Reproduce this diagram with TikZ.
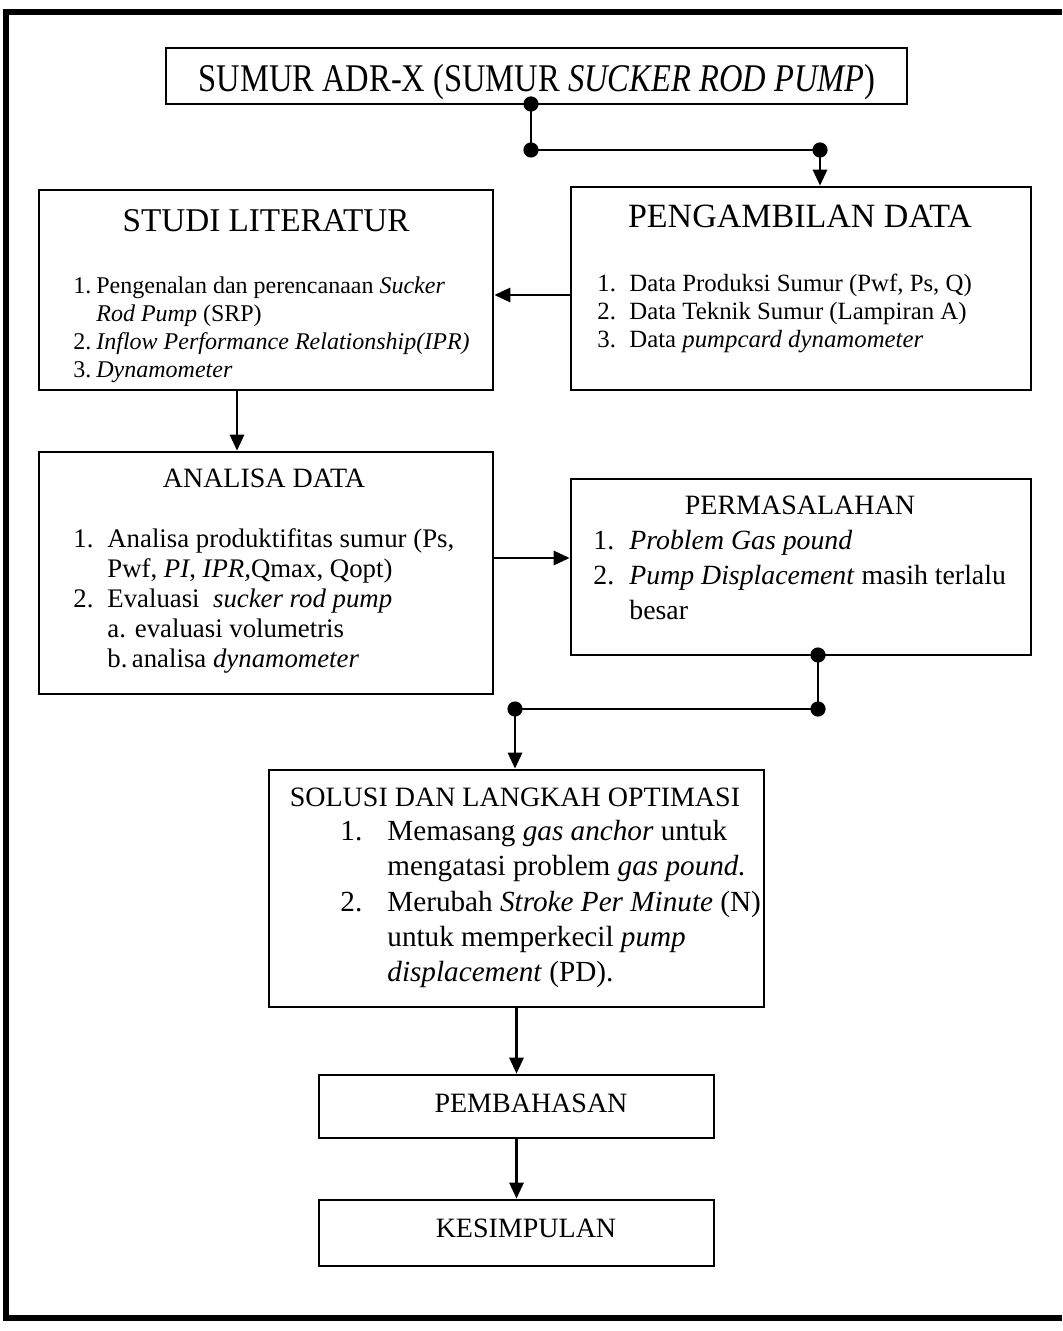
\documentclass[tikz,border=0pt]{standalone}
\usepackage{fontspec}
\setmainfont{Liberation Serif}
\newfontfamily\condfont[FakeStretch=0.83]{Liberation Serif}
\usetikzlibrary{arrows.meta, positioning, fit}
\newcommand{\itm}[2]{\makebox[#1][l]{#2}}
\newcommand{\gap}[1]{\hspace*{#1}}

\begin{document}
\begin{tikzpicture}[x=0.5pt, y=-0.5pt,
    box/.style = {draw, line width=1.3pt, inner sep=0pt},
    lst/.style = {align=left, inner sep=0pt, anchor=north west},
    ttl/.style = {inner sep=0pt, anchor=base},
    con/.style = {line width=1.4pt},
    arr/.style = {line width=1.4pt, -{Triangle[length=8pt, width=7pt]}}]
  \useasboundingbox (0,0) rectangle (1062,1331);
  \draw[line width=2.6pt] (1062,12) -- (6,12) -- (6,1318) -- (1062,1318);

  \node[box, fit={(166,48) (907,104)}] (sumur) {};
  \node[ttl, font=\condfont\fontsize{19.6}{22}\selectfont] (sumurT) at (537,92)
    {SUMUR ADR-X (SUMUR \textit{SUCKER ROD PUMP})};

  \node[box, fit={(39,190) (493,390)}] (studi) {};
  \node[ttl, font=\fontsize{16.6}{20}\selectfont] (studiT) at (266,232) {STUDI LITERATUR};
  \node[lst, font=\fontsize{12}{14}\selectfont] (studiL) at (73,276)
    {\itm{11.5pt}{1.}Pengenalan dan perencanaan \textit{Sucker}\\
     \gap{11.5pt}\textit{Rod Pump} (SRP)\\
     \itm{11.5pt}{2.}\textit{Inflow Performance Relationship(IPR)}\\
     \itm{11.5pt}{3.}\textit{Dynamometer}};

  \node[box, fit={(571,187) (1031,390)}] (ambil) {};
  \node[ttl, font=\fontsize{17}{20}\selectfont] (ambilT) at (800,228) {PENGAMBILAN DATA};
  \node[lst, font=\fontsize{12.4}{14}\selectfont] (ambilL) at (597,274)
    {\itm{16pt}{1.}Data Produksi Sumur (Pwf, Ps, Q)\\
     \itm{16pt}{2.}Data Teknik Sumur (Lampiran A)\\
     \itm{16pt}{3.}Data \textit{pumpcard dynamometer}};

  \node[box, fit={(39,452) (493,694)}] (analisa) {};
  \node[ttl, font=\fontsize{14}{16}\selectfont] (analisaT) at (264,487) {ANALISA DATA};
  \node[lst, font=\fontsize{13.4}{15}\selectfont] (analisaL) at (73,528)
    {\itm{17pt}{1.}Analisa produktifitas sumur (Ps,\\
     \gap{17pt}Pwf, \textit{PI}, \textit{IPR,}Qmax, Qopt)\\
     \itm{17pt}{2.}Evaluasi \ \textit{sucker rod pump}\\
     \gap{17pt}a. evaluasi volumetris\\
     \gap{17pt}b.\,analisa \textit{dynamometer}};

  \node[box, fit={(571,479) (1031,655)}] (masalah) {};
  \node[ttl, font=\fontsize{14}{16}\selectfont] (masalahT) at (800,514) {PERMASALAHAN};
  \node[lst, font=\fontsize{13.9}{17.5}\selectfont] (masalahL) at (593,530)
    {\itm{18pt}{1.}\textit{Problem Gas pound}\\
     \itm{18pt}{2.}\textit{Pump Displacement} masih terlalu\\
     \gap{18pt}besar};

  \node[box, fit={(269,770) (764,1007)}] (solusi) {};
  \node[ttl, font=\fontsize{14}{16}\selectfont] (solusiT) at (515,806) {SOLUSI DAN LANGKAH OPTIMASI};
  \node[lst, font=\fontsize{14.6}{17.6}\selectfont] (solusiL) at (340,820)
    {\itm{23.5pt}{1.}Memasang \textit{gas anchor} untuk\\
     \gap{23.5pt}mengatasi problem \textit{gas pound.}\\
     \itm{23.5pt}{2.}Merubah \textit{Stroke Per Minute} (N)\\
     \gap{23.5pt}untuk memperkecil \textit{pump}\\
     \gap{23.5pt}\textit{displacement} (PD).};

  \node[box, fit={(319,1075) (714,1138)}] (bahas) {};
  \node[ttl, font=\fontsize{14}{16}\selectfont] (bahasT) at (531,1112) {PEMBAHASAN};

  \node[box, fit={(319,1200) (714,1266)}] (simpul) {};
  \node[ttl, font=\fontsize{14}{16}\selectfont] (simpulT) at (526,1237) {KESIMPULAN};

  \coordinate (j1) at (531,104);
  \coordinate (j2) at (531,150);
  \coordinate (j3) at (820,150);
  \coordinate (j4) at (818,655);
  \coordinate (j5) at (818,709);
  \coordinate (j6) at (515,709);
  \coordinate (a1) at ([yshift=-3.25pt]ambil.west);
  \coordinate (a2) at ([xshift=-14.5pt]studi.south);
  \coordinate (a3) at ([yshift=7.5pt]analisa.east);

  \draw[con] (j1) -- (j2) -- (j3);
  \draw[arr] (j3) -- (j3 |- ambil.north);
  \draw[arr] (a1) -- (a1 -| studi.east);
  \draw[arr] (a2) -- (a2 |- analisa.north);
  \draw[arr] (a3) -- (a3 -| masalah.west);
  \draw[con] (j4) -- (j5) -- (j6);
  \draw[arr] (j6) -- (j6 |- solusi.north);
  \draw[arr] (solusi.south) -- (bahas.north);
  \draw[arr] (bahas.south) -- (simpul.north);
  \foreach \j in {j1, j2, j3, j4, j5, j6}
    \fill (\j) circle (3.8pt);
\end{tikzpicture}
\end{document}
